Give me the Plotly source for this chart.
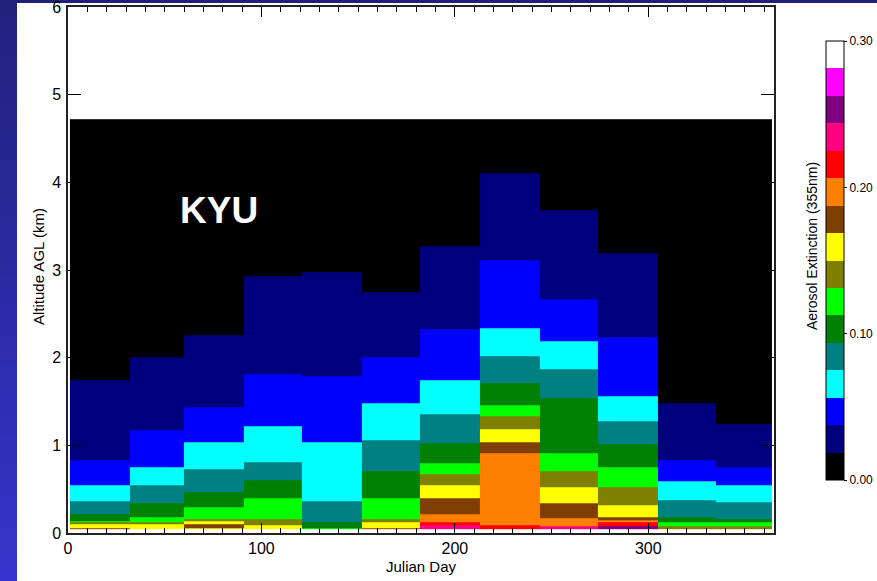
import plotly.graph_objects as go

# ---------------- data ----------------
month_edges = [1, 32, 60, 91, 121, 152, 182, 213, 244, 274, 305, 335, 364]  # Julian day bin edges
data_bottom = 0.04  # km

level_colors = ["#000000", "#00007f", "#0000ff", "#00ffff", "#008080", "#008000",
                "#00ff00", "#808000", "#ffff00", "#7f3f00", "#ff8000", "#ff0000",
                "#ff0080", "#800080", "#ff00ff", "#ffffff"]
cbar_ticks = [0.0, 0.1, 0.2, 0.3]
cbar_ticktext = ["0.00", "0.10", "0.20", "0.30"]

# per month: extinction level index of each layer (top -> bottom) and layer top altitude (km)
jan_levels = [0, 1, 2, 3, 4, 5, 6, 7, 8, 9]
jan_tops   = [4.72, 1.74, 0.83, 0.55, 0.36, 0.21, 0.14, 0.12, 0.10, 0.06]
feb_levels = [0, 1, 2, 3, 4, 5, 6, 7, 8]
feb_tops   = [4.72, 2.00, 1.17, 0.75, 0.54, 0.34, 0.18, 0.12, 0.10]
mar_levels = [0, 1, 2, 3, 4, 5, 6, 7, 8, 9, 8]
mar_tops   = [4.72, 2.26, 1.43, 1.04, 0.73, 0.47, 0.29, 0.16, 0.13, 0.10, 0.055]
apr_levels = [0, 1, 2, 3, 4, 5, 6, 7, 8]
apr_tops   = [4.72, 2.93, 1.81, 1.22, 0.81, 0.60, 0.40, 0.16, 0.09]
may_levels = [0, 1, 2, 3, 4, 5, 6]
may_tops   = [4.72, 2.98, 1.79, 1.04, 0.36, 0.12, 0.06]
jun_levels = [0, 1, 2, 3, 4, 5, 6, 7, 8, 9]
jun_tops   = [4.72, 2.75, 2.00, 1.48, 1.06, 0.70, 0.40, 0.16, 0.12, 0.055]
jul_levels = [0, 1, 2, 3, 4, 5, 6, 7, 8, 9, 10, 11, 12]
jul_tops   = [4.72, 3.27, 2.33, 1.74, 1.35, 1.02, 0.80, 0.67, 0.54, 0.40, 0.21, 0.12, 0.09]
aug_levels = [0, 1, 2, 3, 4, 5, 6, 7, 8, 9, 10, 11]
aug_tops   = [4.72, 4.10, 3.11, 2.34, 2.02, 1.71, 1.46, 1.33, 1.18, 1.04, 0.91, 0.09]
sep_levels = [0, 1, 2, 3, 4, 5, 6, 7, 8, 9, 10, 12]
sep_tops   = [4.72, 3.68, 2.67, 2.19, 1.87, 1.54, 0.91, 0.70, 0.52, 0.34, 0.17, 0.08]
oct_levels = [0, 1, 2, 3, 4, 5, 6, 7, 8, 9, 10, 11, 13]
oct_tops   = [4.72, 3.19, 2.23, 1.56, 1.27, 1.01, 0.75, 0.52, 0.32, 0.18, 0.15, 0.12, 0.08]
nov_levels = [0, 1, 2, 3, 4, 5, 6, 7]
nov_tops   = [4.72, 1.48, 0.83, 0.59, 0.37, 0.18, 0.12, 0.08]
dec_levels = [0, 1, 2, 3, 4, 5, 6, 7]
dec_tops   = [4.72, 1.24, 0.75, 0.55, 0.35, 0.16, 0.12, 0.08]

month_levels = [jan_levels, feb_levels, mar_levels, apr_levels, may_levels, jun_levels,
                jul_levels, aug_levels, sep_levels, oct_levels, nov_levels, dec_levels]
month_tops = [jan_tops, feb_tops, mar_tops, apr_tops, may_tops, jun_tops,
              jul_tops, aug_tops, sep_tops, oct_tops, nov_tops, dec_tops]

# ---------------- build grid ----------------
n_lev = len(level_colors)
zmax = 0.30
step = zmax / n_lev

def level_value(k):
    return (k + 0.5) * step

edges = set([data_bottom])
for t in month_tops:
    edges.update(t)
y_edges = sorted(edges)

z = []
for j in range(len(y_edges) - 1):
    mid = 0.5 * (y_edges[j] + y_edges[j + 1])
    row = []
    for levs, tops in zip(month_levels, month_tops):
        val = None
        for i in range(len(levs)):
            lo = tops[i + 1] if i + 1 < len(tops) else data_bottom
            if lo <= mid < tops[i]:
                val = level_value(levs[i])
                break
        row.append(val)
    z.append(row)

colorscale = []
for i, c in enumerate(level_colors):
    colorscale.append([i / n_lev, c])
    colorscale.append([(i + 1) / n_lev, c])

# ---------------- layout geometry (pixels) ----------------
W, H = 877, 581
L, R, T, B = 68, 774, 7, 533
PW, PH = R - L, B - T

def px2x(px):
    return (px - L) / PW

def py2y(py):
    return (B - py) / PH

narrow = "Liberation Sans Narrow, Arial Narrow, Liberation Sans, Arial"
regular = "Liberation Sans, Arial"

fig = go.Figure()
fig.add_trace(go.Heatmap(
    x=month_edges, y=y_edges, z=z,
    zmin=0, zmax=zmax, colorscale=colorscale,
    hoverinfo="skip",
    colorbar=dict(
        x=px2x(826), xanchor="left", xpad=0,
        y=py2y(41), yanchor="top", ypad=0,
        len=(480 - 41) / PH, lenmode="fraction",
        thickness=18, thicknessmode="pixels",
        outlinecolor="black", outlinewidth=1,
        tickmode="array", tickvals=cbar_ticks, ticktext=cbar_ticktext,
        ticks="outside", ticklen=3, tickcolor="black",
        tickfont=dict(family=narrow, size=12, color="black"),
    ),
))

shapes = []
# blue banner on top and left
shapes.append(dict(type="rect", xref="paper", yref="paper",
                   x0=px2x(0), x1=px2x(W), y0=py2y(3), y1=py2y(0),
                   fillcolor="#20207a", line=dict(width=0), layer="below"))
nb = 40
c0 = (34, 34, 125)
c1 = (52, 52, 204)
for i in range(nb):
    f = i / (nb - 1)
    col = "rgb(%d,%d,%d)" % tuple(round(a + (b - a) * f) for a, b in zip(c0, c1))
    shapes.append(dict(type="rect", xref="paper", yref="paper",
                       x0=px2x(0), x1=px2x(17),
                       y0=py2y(H * (i + 1) / nb + 2), y1=py2y(H * i / nb),
                       fillcolor=col, line=dict(width=0), layer="below"))

annotations = [
    dict(text="<b>KYU</b>", x=78, y=3.68, xref="x", yref="y", showarrow=False,
         xanchor="center", yanchor="middle",
         font=dict(family=regular, size=37, color="white")),
    dict(text="Altitude AGL (km)", x=px2x(38), y=py2y(267), xref="paper", yref="paper",
         showarrow=False, textangle=-90, xanchor="center", yanchor="middle",
         font=dict(family=regular, size=15, color="black")),
    dict(text="Julian Day", x=px2x(421), y=py2y(566), xref="paper", yref="paper",
         showarrow=False, xanchor="center", yanchor="middle",
         font=dict(family=regular, size=15, color="black")),
    dict(text="Aerosol Extinction (355nm)", x=px2x(812), y=py2y(246), xref="paper", yref="paper",
         showarrow=False, textangle=-90, xanchor="center", yanchor="middle",
         font=dict(family=regular, size=14, color="black")),
]

fig.update_layout(
    template="none",
    width=W, height=H,
    margin=dict(l=L, r=W - R, t=T, b=H - B, pad=0, autoexpand=False),
    paper_bgcolor="white", plot_bgcolor="white",
    showlegend=False,
    shapes=shapes,
    annotations=annotations,
    xaxis=dict(range=[0, 365], tickmode="array", tickvals=[0, 100, 200, 300],
               ticks="inside", ticklen=10, tickcolor="black", tickwidth=1,
               minor=dict(dtick=10, tick0=0, ticks="inside", ticklen=5, tickcolor="black"),
               showline=True, linecolor="#222222", linewidth=1.5, mirror="allticks",
               showgrid=False, zeroline=False, automargin=False,
               ticklabeloverflow="allow",
               tickfont=dict(family=narrow, size=16, color="black"), ticklabelstandoff=0),
    yaxis=dict(range=[0, 6], tickmode="linear", tick0=0, dtick=1,
               ticks="inside", ticklen=13, tickcolor="black", tickwidth=1,
               showline=True, linecolor="#222222", linewidth=1.5, mirror="allticks",
               showgrid=False, zeroline=False, automargin=False,
               ticklabeloverflow="allow",
               tickfont=dict(family=narrow, size=16, color="black"), ticklabelstandoff=2),
)

fig.write_html("out.html")
